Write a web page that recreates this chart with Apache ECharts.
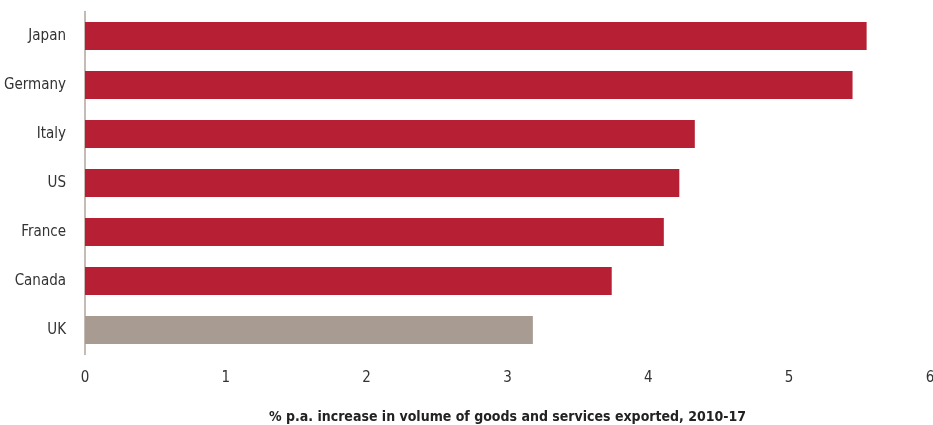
<!DOCTYPE html>
<html>
<head>
<meta charset="utf-8">
<script src="https://cdn.jsdelivr.net/npm/echarts@6/dist/echarts.min.js"></script>
<style>
  html, body { margin: 0; padding: 0; background: #fff; }
  #chart { width: 933px; height: 425px; }
</style>
</head>
<body>
<div id="chart"></div>
<script>
// Export volume growth, % p.a., 2010-17 (top to bottom)
const countries = ['Japan', 'Germany', 'Italy', 'US', 'France', 'Canada', 'UK'];
const growth = [5.55, 5.45, 4.33, 4.22, 4.11, 3.74, 3.18];
const xTicks = [0, 1, 2, 3, 4, 5, 6];
const axisTitle = '% p.a. increase in volume of goods and services exported, 2010-17';

const RED = '#b72034';
const GREY = '#a89b92';
const FONT = '"DejaVu Sans Condensed", "Liberation Sans Narrow", "Arial Narrow", sans-serif';

const chart = echarts.init(document.getElementById('chart'));
chart.setOption({
  animation: false,
  grid: { left: 85, right: 3, top: 11.5, height: 343, containLabel: false, outerBoundsMode: 'none' },
  xAxis: {
    type: 'value',
    min: xTicks[0],
    max: xTicks[xTicks.length - 1],
    interval: 1,
    name: axisTitle,
    nameLocation: 'middle',
    nameGap: 56,
    nameTextStyle: { fontFamily: FONT, fontSize: 14, fontWeight: 'bold', color: '#222' },
    axisLine: { show: false },
    axisTick: { show: false },
    splitLine: { show: false },
    axisLabel: { fontFamily: FONT, fontSize: 15, color: '#333', margin: 16, showMaxLabel: true }
  },
  yAxis: {
    type: 'category',
    inverse: true,
    data: countries,
    axisLine: { show: true, lineStyle: { color: '#b0a49c', width: 1.5 } },
    axisTick: { show: false },
    axisLabel: { fontFamily: FONT, fontSize: 15, color: '#333', margin: 19 }
  },
  series: [{
    type: 'bar',
    barWidth: 28,
    data: growth.map((v, i) => ({
      value: v,
      itemStyle: { color: countries[i] === 'UK' ? GREY : RED }
    }))
  }]
});
</script>
</body>
</html>
